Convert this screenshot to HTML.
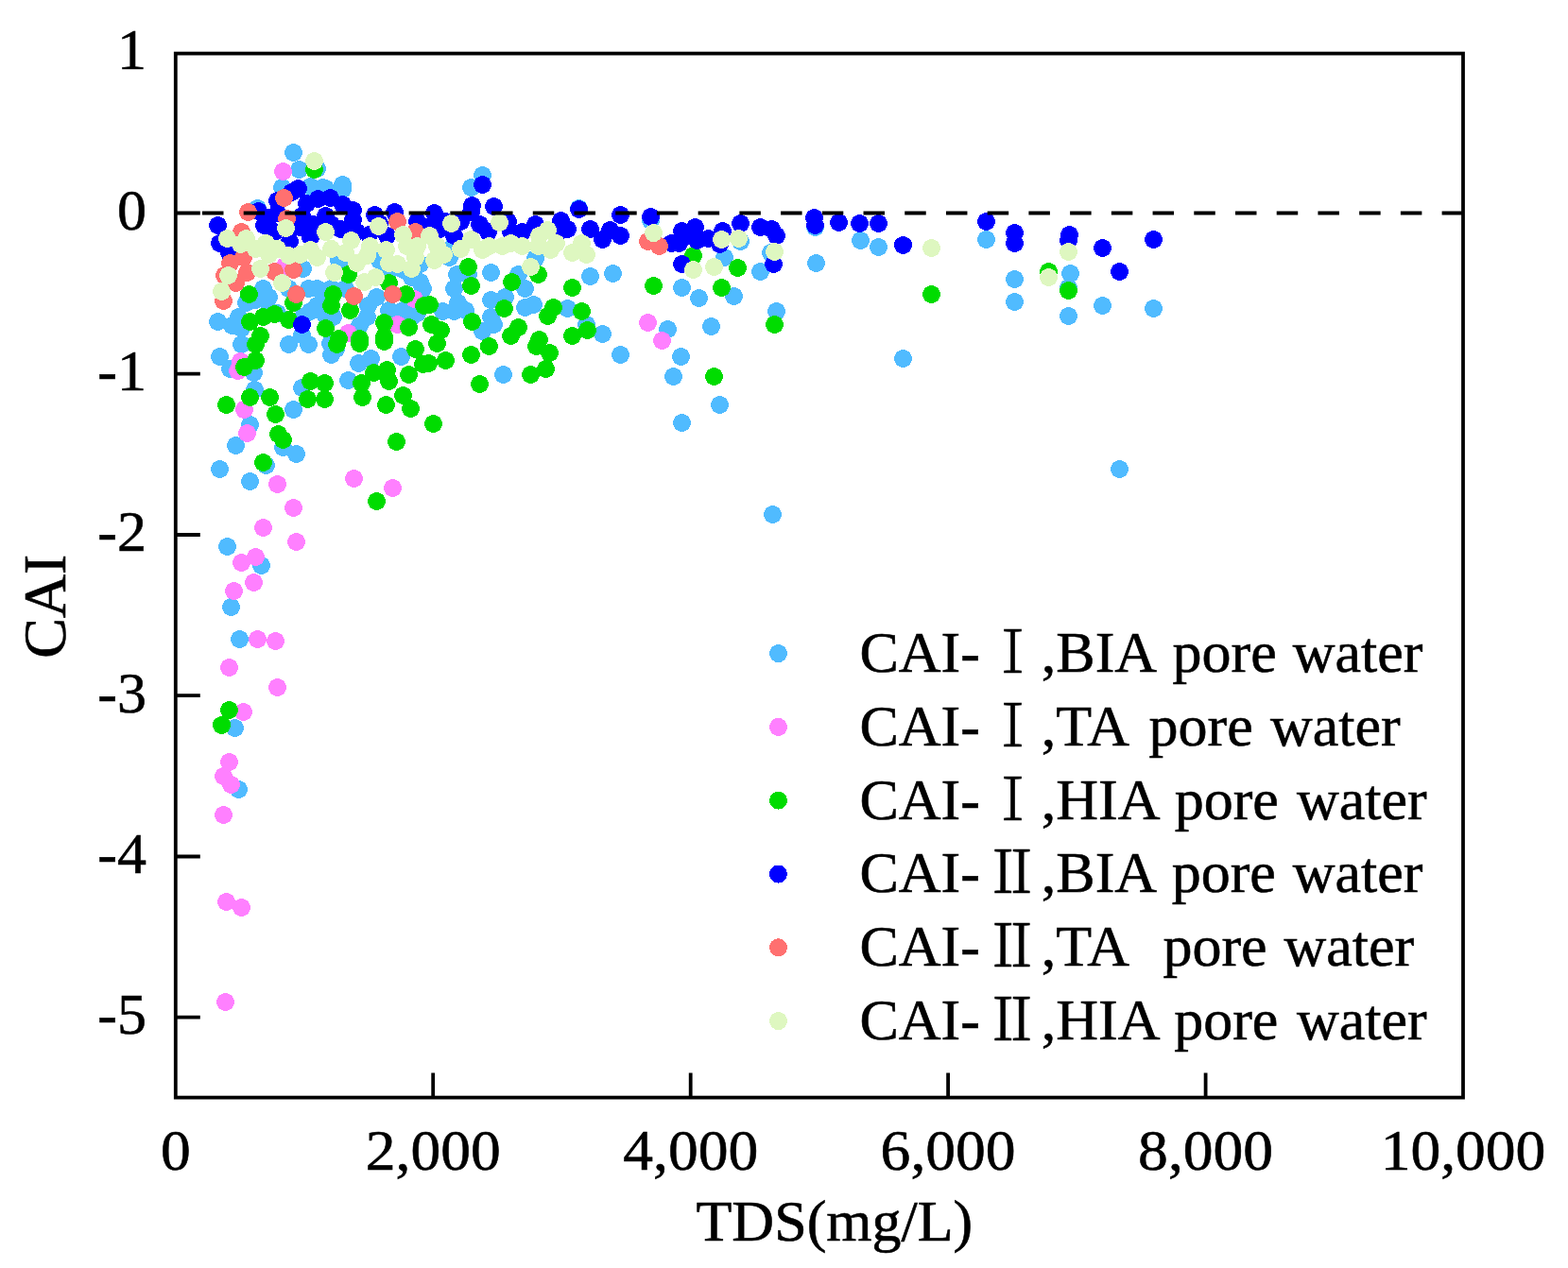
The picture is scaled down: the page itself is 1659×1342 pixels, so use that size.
<!DOCTYPE html><html><head><meta charset="utf-8"><title>CAI vs TDS</title><style>html,body{margin:0;padding:0;background:#fff;}svg{display:block;}text{font-family:"Liberation Serif","Noto Serif CJK SC",serif;fill:#000;stroke:#000;stroke-width:0.6px;}</style></head><body>
<svg width="1659" height="1342" viewBox="0 0 1659 1342">
<rect width="1659" height="1342" fill="#fff"/>
<g fill="#50BBFF" shape-rendering="crispEdges">
<circle cx="310.5" cy="161.5" r="9.5"/><circle cx="316.5" cy="179.5" r="9.5"/><circle cx="362.5" cy="195.5" r="9.5"/><circle cx="341.5" cy="198.5" r="9.5"/><circle cx="328.5" cy="197.5" r="9.5"/><circle cx="510.5" cy="185.5" r="9.5"/><circle cx="498.5" cy="198.5" r="9.5"/><circle cx="272.5" cy="220.5" r="9.5"/><circle cx="298.5" cy="198.5" r="9.5"/><circle cx="362.5" cy="200.5" r="9.5"/><circle cx="344.5" cy="199.5" r="9.5"/><circle cx="358.5" cy="275.5" r="9.5"/><circle cx="401.5" cy="275.5" r="9.5"/><circle cx="426.5" cy="285.5" r="9.5"/><circle cx="444.5" cy="279.5" r="9.5"/><circle cx="444.5" cy="298.5" r="9.5"/><circle cx="320.5" cy="284.5" r="9.5"/><circle cx="278.5" cy="305.5" r="9.5"/><circle cx="230.5" cy="340.5" r="9.5"/><circle cx="252.5" cy="335.5" r="9.5"/><circle cx="270.5" cy="317.5" r="9.5"/><circle cx="284.5" cy="314.5" r="9.5"/><circle cx="293.5" cy="331.5" r="9.5"/><circle cx="328.5" cy="329.5" r="9.5"/><circle cx="343.5" cy="311.5" r="9.5"/><circle cx="350.5" cy="305.5" r="9.5"/><circle cx="335.5" cy="323.5" r="9.5"/><circle cx="389.5" cy="323.5" r="9.5"/><circle cx="398.5" cy="314.5" r="9.5"/><circle cx="380.5" cy="344.5" r="9.5"/><circle cx="426.5" cy="328.5" r="9.5"/><circle cx="441.5" cy="331.5" r="9.5"/><circle cx="326.5" cy="305.5" r="9.5"/><circle cx="365.5" cy="278.5" r="9.5"/><circle cx="411.5" cy="287.5" r="9.5"/><circle cx="435.5" cy="293.5" r="9.5"/><circle cx="447.5" cy="305.5" r="9.5"/><circle cx="260.5" cy="320.5" r="9.5"/><circle cx="284.5" cy="328.5" r="9.5"/><circle cx="305.5" cy="305.5" r="9.5"/><circle cx="320.5" cy="335.5" r="9.5"/><circle cx="335.5" cy="305.5" r="9.5"/><circle cx="365.5" cy="305.5" r="9.5"/><circle cx="388.5" cy="335.5" r="9.5"/><circle cx="435.5" cy="335.5" r="9.5"/><circle cx="245.5" cy="344.5" r="9.5"/><circle cx="411.5" cy="328.5" r="9.5"/><circle cx="612.5" cy="220.5" r="9.5"/><circle cx="688.5" cy="233.5" r="9.5"/><circle cx="480.5" cy="258.5" r="9.5"/><circle cx="475.5" cy="272.5" r="9.5"/><circle cx="483.5" cy="290.5" r="9.5"/><circle cx="480.5" cy="305.5" r="9.5"/><circle cx="484.5" cy="320.5" r="9.5"/><circle cx="468.5" cy="329.5" r="9.5"/><circle cx="519.5" cy="288.5" r="9.5"/><circle cx="548.5" cy="290.5" r="9.5"/><circle cx="555.5" cy="305.5" r="9.5"/><circle cx="519.5" cy="317.5" r="9.5"/><circle cx="534.5" cy="314.5" r="9.5"/><circle cx="555.5" cy="325.5" r="9.5"/><circle cx="564.5" cy="322.5" r="9.5"/><circle cx="519.5" cy="335.5" r="9.5"/><circle cx="510.5" cy="350.5" r="9.5"/><circle cx="600.5" cy="326.5" r="9.5"/><circle cx="624.5" cy="292.5" r="9.5"/><circle cx="648.5" cy="289.5" r="9.5"/><circle cx="620.5" cy="343.5" r="9.5"/><circle cx="637.5" cy="353.5" r="9.5"/><circle cx="566.5" cy="273.5" r="9.5"/><circle cx="492.5" cy="328.5" r="9.5"/><circle cx="495.5" cy="290.5" r="9.5"/><circle cx="480.5" cy="329.5" r="9.5"/><circle cx="522.5" cy="343.5" r="9.5"/><circle cx="783.5" cy="255.5" r="9.5"/><circle cx="766.5" cy="272.5" r="9.5"/><circle cx="862.5" cy="240.5" r="9.5"/><circle cx="910.5" cy="254.5" r="9.5"/><circle cx="929.5" cy="261.5" r="9.5"/><circle cx="863.5" cy="278.5" r="9.5"/><circle cx="804.5" cy="287.5" r="9.5"/><circle cx="721.5" cy="304.5" r="9.5"/><circle cx="739.5" cy="315.5" r="9.5"/><circle cx="776.5" cy="313.5" r="9.5"/><circle cx="821.5" cy="329.5" r="9.5"/><circle cx="752.5" cy="345.5" r="9.5"/><circle cx="706.5" cy="348.5" r="9.5"/><circle cx="815.5" cy="267.5" r="9.5"/><circle cx="1043.5" cy="253.5" r="9.5"/><circle cx="1073.5" cy="295.5" r="9.5"/><circle cx="1073.5" cy="319.5" r="9.5"/><circle cx="1132.5" cy="289.5" r="9.5"/><circle cx="1130.5" cy="304.5" r="9.5"/><circle cx="1166.5" cy="323.5" r="9.5"/><circle cx="1220.5" cy="326.5" r="9.5"/><circle cx="1130.5" cy="334.5" r="9.5"/><circle cx="335.5" cy="178.5" r="9.5"/><circle cx="232.5" cy="377.5" r="9.5"/><circle cx="243.5" cy="390.5" r="9.5"/><circle cx="268.5" cy="394.5" r="9.5"/><circle cx="255.5" cy="364.5" r="9.5"/><circle cx="305.5" cy="364.5" r="9.5"/><circle cx="326.5" cy="364.5" r="9.5"/><circle cx="350.5" cy="375.5" r="9.5"/><circle cx="355.5" cy="369.5" r="9.5"/><circle cx="379.5" cy="384.5" r="9.5"/><circle cx="392.5" cy="379.5" r="9.5"/><circle cx="424.5" cy="377.5" r="9.5"/><circle cx="368.5" cy="402.5" r="9.5"/><circle cx="319.5" cy="410.5" r="9.5"/><circle cx="269.5" cy="412.5" r="9.5"/><circle cx="310.5" cy="433.5" r="9.5"/><circle cx="264.5" cy="449.5" r="9.5"/><circle cx="249.5" cy="471.5" r="9.5"/><circle cx="299.5" cy="473.5" r="9.5"/><circle cx="313.5" cy="480.5" r="9.5"/><circle cx="232.5" cy="496.5" r="9.5"/><circle cx="281.5" cy="492.5" r="9.5"/><circle cx="264.5" cy="509.5" r="9.5"/><circle cx="349.5" cy="363.5" r="9.5"/><circle cx="532.5" cy="396.5" r="9.5"/><circle cx="656.5" cy="375.5" r="9.5"/><circle cx="720.5" cy="377.5" r="9.5"/><circle cx="712.5" cy="398.5" r="9.5"/><circle cx="761.5" cy="428.5" r="9.5"/><circle cx="721.5" cy="447.5" r="9.5"/><circle cx="955.5" cy="379.5" r="9.5"/><circle cx="1184.5" cy="496.5" r="9.5"/><circle cx="240.5" cy="578.5" r="9.5"/><circle cx="276.5" cy="598.5" r="9.5"/><circle cx="244.5" cy="642.5" r="9.5"/><circle cx="253.5" cy="676.5" r="9.5"/><circle cx="248.5" cy="770.5" r="9.5"/><circle cx="252.5" cy="835.5" r="9.5"/><circle cx="817.5" cy="544.5" r="9.5"/><circle cx="319.5" cy="354.5" r="9.5"/><circle cx="255.5" cy="347.5" r="9.5"/><circle cx="343.5" cy="332.5" r="9.5"/><circle cx="352.5" cy="335.5" r="9.5"/>
</g>
<g fill="#FF80FF" shape-rendering="crispEdges">
<circle cx="299.5" cy="181.5" r="9.5"/><circle cx="301.5" cy="281.5" r="9.5"/><circle cx="438.5" cy="316.5" r="9.5"/><circle cx="420.5" cy="343.5" r="9.5"/><circle cx="368.5" cy="352.5" r="9.5"/><circle cx="685.5" cy="341.5" r="9.5"/><circle cx="700.5" cy="360.5" r="9.5"/><circle cx="254.5" cy="382.5" r="9.5"/><circle cx="251.5" cy="392.5" r="9.5"/><circle cx="258.5" cy="433.5" r="9.5"/><circle cx="261.5" cy="458.5" r="9.5"/><circle cx="293.5" cy="512.5" r="9.5"/><circle cx="374.5" cy="506.5" r="9.5"/><circle cx="415.5" cy="516.5" r="9.5"/><circle cx="310.5" cy="537.5" r="9.5"/><circle cx="278.5" cy="558.5" r="9.5"/><circle cx="313.5" cy="573.5" r="9.5"/><circle cx="255.5" cy="595.5" r="9.5"/><circle cx="270.5" cy="589.5" r="9.5"/><circle cx="268.5" cy="616.5" r="9.5"/><circle cx="247.5" cy="625.5" r="9.5"/><circle cx="272.5" cy="676.5" r="9.5"/><circle cx="291.5" cy="678.5" r="9.5"/><circle cx="242.5" cy="706.5" r="9.5"/><circle cx="293.5" cy="727.5" r="9.5"/><circle cx="257.5" cy="753.5" r="9.5"/><circle cx="242.5" cy="806.5" r="9.5"/><circle cx="236.5" cy="821.5" r="9.5"/><circle cx="244.5" cy="830.5" r="9.5"/><circle cx="236.5" cy="862.5" r="9.5"/><circle cx="239.5" cy="954.5" r="9.5"/><circle cx="255.5" cy="960.5" r="9.5"/><circle cx="238.5" cy="1060.5" r="9.5"/>
</g>
<g fill="#00DC00" shape-rendering="crispEdges">
<circle cx="332.5" cy="179.5" r="9.5"/><circle cx="263.5" cy="311.5" r="9.5"/><circle cx="310.5" cy="320.5" r="9.5"/><circle cx="352.5" cy="311.5" r="9.5"/><circle cx="350.5" cy="323.5" r="9.5"/><circle cx="368.5" cy="290.5" r="9.5"/><circle cx="370.5" cy="328.5" r="9.5"/><circle cx="411.5" cy="299.5" r="9.5"/><circle cx="429.5" cy="311.5" r="9.5"/><circle cx="448.5" cy="323.5" r="9.5"/><circle cx="264.5" cy="340.5" r="9.5"/><circle cx="278.5" cy="335.5" r="9.5"/><circle cx="290.5" cy="332.5" r="9.5"/><circle cx="305.5" cy="338.5" r="9.5"/><circle cx="275.5" cy="355.5" r="9.5"/><circle cx="344.5" cy="347.5" r="9.5"/><circle cx="406.5" cy="341.5" r="9.5"/><circle cx="432.5" cy="346.5" r="9.5"/><circle cx="406.5" cy="356.5" r="9.5"/><circle cx="358.5" cy="358.5" r="9.5"/><circle cx="380.5" cy="358.5" r="9.5"/><circle cx="495.5" cy="282.5" r="9.5"/><circle cx="498.5" cy="302.5" r="9.5"/><circle cx="541.5" cy="298.5" r="9.5"/><circle cx="569.5" cy="290.5" r="9.5"/><circle cx="605.5" cy="304.5" r="9.5"/><circle cx="691.5" cy="302.5" r="9.5"/><circle cx="454.5" cy="322.5" r="9.5"/><circle cx="533.5" cy="326.5" r="9.5"/><circle cx="585.5" cy="325.5" r="9.5"/><circle cx="579.5" cy="334.5" r="9.5"/><circle cx="615.5" cy="329.5" r="9.5"/><circle cx="499.5" cy="340.5" r="9.5"/><circle cx="466.5" cy="349.5" r="9.5"/><circle cx="456.5" cy="343.5" r="9.5"/><circle cx="548.5" cy="346.5" r="9.5"/><circle cx="540.5" cy="355.5" r="9.5"/><circle cx="605.5" cy="355.5" r="9.5"/><circle cx="621.5" cy="349.5" r="9.5"/><circle cx="570.5" cy="359.5" r="9.5"/><circle cx="733.5" cy="270.5" r="9.5"/><circle cx="780.5" cy="283.5" r="9.5"/><circle cx="763.5" cy="304.5" r="9.5"/><circle cx="819.5" cy="343.5" r="9.5"/><circle cx="985.5" cy="311.5" r="9.5"/><circle cx="1109.5" cy="287.5" r="9.5"/><circle cx="1130.5" cy="307.5" r="9.5"/><circle cx="270.5" cy="364.5" r="9.5"/><circle cx="270.5" cy="381.5" r="9.5"/><circle cx="258.5" cy="388.5" r="9.5"/><circle cx="356.5" cy="364.5" r="9.5"/><circle cx="380.5" cy="363.5" r="9.5"/><circle cx="406.5" cy="361.5" r="9.5"/><circle cx="439.5" cy="369.5" r="9.5"/><circle cx="447.5" cy="385.5" r="9.5"/><circle cx="328.5" cy="403.5" r="9.5"/><circle cx="343.5" cy="405.5" r="9.5"/><circle cx="325.5" cy="422.5" r="9.5"/><circle cx="343.5" cy="422.5" r="9.5"/><circle cx="382.5" cy="405.5" r="9.5"/><circle cx="395.5" cy="394.5" r="9.5"/><circle cx="409.5" cy="391.5" r="9.5"/><circle cx="411.5" cy="403.5" r="9.5"/><circle cx="432.5" cy="396.5" r="9.5"/><circle cx="383.5" cy="420.5" r="9.5"/><circle cx="408.5" cy="428.5" r="9.5"/><circle cx="426.5" cy="418.5" r="9.5"/><circle cx="434.5" cy="432.5" r="9.5"/><circle cx="239.5" cy="428.5" r="9.5"/><circle cx="264.5" cy="420.5" r="9.5"/><circle cx="285.5" cy="420.5" r="9.5"/><circle cx="291.5" cy="438.5" r="9.5"/><circle cx="294.5" cy="459.5" r="9.5"/><circle cx="299.5" cy="465.5" r="9.5"/><circle cx="419.5" cy="467.5" r="9.5"/><circle cx="278.5" cy="489.5" r="9.5"/><circle cx="462.5" cy="363.5" r="9.5"/><circle cx="453.5" cy="384.5" r="9.5"/><circle cx="471.5" cy="381.5" r="9.5"/><circle cx="498.5" cy="375.5" r="9.5"/><circle cx="517.5" cy="366.5" r="9.5"/><circle cx="567.5" cy="366.5" r="9.5"/><circle cx="581.5" cy="373.5" r="9.5"/><circle cx="577.5" cy="390.5" r="9.5"/><circle cx="561.5" cy="396.5" r="9.5"/><circle cx="507.5" cy="406.5" r="9.5"/><circle cx="458.5" cy="448.5" r="9.5"/><circle cx="755.5" cy="398.5" r="9.5"/><circle cx="398.5" cy="530.5" r="9.5"/><circle cx="242.5" cy="751.5" r="9.5"/><circle cx="234.5" cy="767.5" r="9.5"/>
</g>
<g fill="#0000FF" shape-rendering="crispEdges">
<circle cx="510.5" cy="195.5" r="9.5"/><circle cx="230.5" cy="238.5" r="9.5"/><circle cx="232.5" cy="257.5" r="9.5"/><circle cx="315.5" cy="199.5" r="9.5"/><circle cx="273.5" cy="223.5" r="9.5"/><circle cx="336.5" cy="210.5" r="9.5"/><circle cx="362.5" cy="216.5" r="9.5"/><circle cx="396.5" cy="227.5" r="9.5"/><circle cx="279.5" cy="238.5" r="9.5"/><circle cx="306.5" cy="255.5" r="9.5"/><circle cx="328.5" cy="250.5" r="9.5"/><circle cx="360.5" cy="242.5" r="9.5"/><circle cx="390.5" cy="248.5" r="9.5"/><circle cx="373.5" cy="232.5" r="9.5"/><circle cx="319.5" cy="228.5" r="9.5"/><circle cx="293.5" cy="225.5" r="9.5"/><circle cx="344.5" cy="228.5" r="9.5"/><circle cx="417.5" cy="224.5" r="9.5"/><circle cx="441.5" cy="234.5" r="9.5"/><circle cx="409.5" cy="249.5" r="9.5"/><circle cx="319.5" cy="343.5" r="9.5"/><circle cx="242.5" cy="267.5" r="9.5"/><circle cx="317.5" cy="240.5" r="9.5"/><circle cx="293.5" cy="212.5" r="9.5"/><circle cx="308.5" cy="203.5" r="9.5"/><circle cx="350.5" cy="237.5" r="9.5"/><circle cx="373.5" cy="222.5" r="9.5"/><circle cx="377.5" cy="245.5" r="9.5"/><circle cx="290.5" cy="245.5" r="9.5"/><circle cx="284.5" cy="230.5" r="9.5"/><circle cx="401.5" cy="236.5" r="9.5"/><circle cx="459.5" cy="225.5" r="9.5"/><circle cx="499.5" cy="217.5" r="9.5"/><circle cx="498.5" cy="224.5" r="9.5"/><circle cx="522.5" cy="218.5" r="9.5"/><circle cx="465.5" cy="242.5" r="9.5"/><circle cx="480.5" cy="249.5" r="9.5"/><circle cx="487.5" cy="234.5" r="9.5"/><circle cx="507.5" cy="237.5" r="9.5"/><circle cx="516.5" cy="245.5" r="9.5"/><circle cx="537.5" cy="234.5" r="9.5"/><circle cx="540.5" cy="245.5" r="9.5"/><circle cx="566.5" cy="237.5" r="9.5"/><circle cx="552.5" cy="245.5" r="9.5"/><circle cx="593.5" cy="233.5" r="9.5"/><circle cx="600.5" cy="242.5" r="9.5"/><circle cx="612.5" cy="221.5" r="9.5"/><circle cx="624.5" cy="242.5" r="9.5"/><circle cx="637.5" cy="253.5" r="9.5"/><circle cx="656.5" cy="227.5" r="9.5"/><circle cx="656.5" cy="249.5" r="9.5"/><circle cx="688.5" cy="229.5" r="9.5"/><circle cx="590.5" cy="245.5" r="9.5"/><circle cx="645.5" cy="243.5" r="9.5"/><circle cx="471.5" cy="234.5" r="9.5"/><circle cx="454.5" cy="239.5" r="9.5"/><circle cx="721.5" cy="244.5" r="9.5"/><circle cx="735.5" cy="240.5" r="9.5"/><circle cx="718.5" cy="257.5" r="9.5"/><circle cx="737.5" cy="254.5" r="9.5"/><circle cx="749.5" cy="252.5" r="9.5"/><circle cx="764.5" cy="244.5" r="9.5"/><circle cx="761.5" cy="258.5" r="9.5"/><circle cx="783.5" cy="236.5" r="9.5"/><circle cx="804.5" cy="240.5" r="9.5"/><circle cx="816.5" cy="242.5" r="9.5"/><circle cx="821.5" cy="249.5" r="9.5"/><circle cx="710.5" cy="257.5" r="9.5"/><circle cx="721.5" cy="279.5" r="9.5"/><circle cx="818.5" cy="279.5" r="9.5"/><circle cx="861.5" cy="230.5" r="9.5"/><circle cx="862.5" cy="238.5" r="9.5"/><circle cx="887.5" cy="235.5" r="9.5"/><circle cx="909.5" cy="236.5" r="9.5"/><circle cx="929.5" cy="236.5" r="9.5"/><circle cx="728.5" cy="249.5" r="9.5"/><circle cx="955.5" cy="259.5" r="9.5"/><circle cx="1043.5" cy="234.5" r="9.5"/><circle cx="1073.5" cy="246.5" r="9.5"/><circle cx="1073.5" cy="257.5" r="9.5"/><circle cx="1131.5" cy="248.5" r="9.5"/><circle cx="1130.5" cy="254.5" r="9.5"/><circle cx="1166.5" cy="262.5" r="9.5"/><circle cx="1220.5" cy="253.5" r="9.5"/><circle cx="1184.5" cy="287.5" r="9.5"/><circle cx="324.5" cy="215.5" r="9.5"/><circle cx="331.5" cy="237.5" r="9.5"/><circle cx="349.5" cy="209.5" r="9.5"/>
</g>
<g fill="#FF7070" shape-rendering="crispEdges">
<circle cx="300.5" cy="209.5" r="9.5"/><circle cx="262.5" cy="224.5" r="9.5"/><circle cx="303.5" cy="231.5" r="9.5"/><circle cx="420.5" cy="234.5" r="9.5"/><circle cx="439.5" cy="245.5" r="9.5"/><circle cx="243.5" cy="278.5" r="9.5"/><circle cx="257.5" cy="272.5" r="9.5"/><circle cx="261.5" cy="288.5" r="9.5"/><circle cx="249.5" cy="299.5" r="9.5"/><circle cx="236.5" cy="318.5" r="9.5"/><circle cx="237.5" cy="291.5" r="9.5"/><circle cx="290.5" cy="287.5" r="9.5"/><circle cx="310.5" cy="285.5" r="9.5"/><circle cx="313.5" cy="311.5" r="9.5"/><circle cx="374.5" cy="313.5" r="9.5"/><circle cx="415.5" cy="311.5" r="9.5"/><circle cx="255.5" cy="245.5" r="9.5"/><circle cx="685.5" cy="255.5" r="9.5"/><circle cx="697.5" cy="260.5" r="9.5"/>
</g>
<g fill="#DEF7C0" shape-rendering="crispEdges">
<circle cx="332.5" cy="170.5" r="9.5"/><circle cx="240.5" cy="252.5" r="9.5"/><circle cx="260.5" cy="252.5" r="9.5"/><circle cx="270.5" cy="263.5" r="9.5"/><circle cx="281.5" cy="257.5" r="9.5"/><circle cx="302.5" cy="241.5" r="9.5"/><circle cx="284.5" cy="269.5" r="9.5"/><circle cx="305.5" cy="270.5" r="9.5"/><circle cx="328.5" cy="264.5" r="9.5"/><circle cx="344.5" cy="245.5" r="9.5"/><circle cx="350.5" cy="263.5" r="9.5"/><circle cx="371.5" cy="254.5" r="9.5"/><circle cx="365.5" cy="267.5" r="9.5"/><circle cx="400.5" cy="239.5" r="9.5"/><circle cx="391.5" cy="260.5" r="9.5"/><circle cx="408.5" cy="264.5" r="9.5"/><circle cx="426.5" cy="248.5" r="9.5"/><circle cx="441.5" cy="260.5" r="9.5"/><circle cx="420.5" cy="279.5" r="9.5"/><circle cx="439.5" cy="272.5" r="9.5"/><circle cx="241.5" cy="291.5" r="9.5"/><circle cx="234.5" cy="308.5" r="9.5"/><circle cx="275.5" cy="284.5" r="9.5"/><circle cx="298.5" cy="299.5" r="9.5"/><circle cx="353.5" cy="288.5" r="9.5"/><circle cx="385.5" cy="298.5" r="9.5"/><circle cx="397.5" cy="293.5" r="9.5"/><circle cx="293.5" cy="263.5" r="9.5"/><circle cx="317.5" cy="269.5" r="9.5"/><circle cx="335.5" cy="272.5" r="9.5"/><circle cx="388.5" cy="270.5" r="9.5"/><circle cx="411.5" cy="278.5" r="9.5"/><circle cx="430.5" cy="260.5" r="9.5"/><circle cx="254.5" cy="258.5" r="9.5"/><circle cx="377.5" cy="278.5" r="9.5"/><circle cx="435.5" cy="284.5" r="9.5"/><circle cx="477.5" cy="236.5" r="9.5"/><circle cx="528.5" cy="235.5" r="9.5"/><circle cx="498.5" cy="253.5" r="9.5"/><circle cx="462.5" cy="260.5" r="9.5"/><circle cx="469.5" cy="269.5" r="9.5"/><circle cx="459.5" cy="275.5" r="9.5"/><circle cx="510.5" cy="264.5" r="9.5"/><circle cx="517.5" cy="260.5" r="9.5"/><circle cx="540.5" cy="257.5" r="9.5"/><circle cx="552.5" cy="260.5" r="9.5"/><circle cx="531.5" cy="260.5" r="9.5"/><circle cx="570.5" cy="249.5" r="9.5"/><circle cx="579.5" cy="243.5" r="9.5"/><circle cx="582.5" cy="264.5" r="9.5"/><circle cx="588.5" cy="257.5" r="9.5"/><circle cx="605.5" cy="267.5" r="9.5"/><circle cx="620.5" cy="269.5" r="9.5"/><circle cx="615.5" cy="257.5" r="9.5"/><circle cx="561.5" cy="282.5" r="9.5"/><circle cx="691.5" cy="246.5" r="9.5"/><circle cx="454.5" cy="249.5" r="9.5"/><circle cx="487.5" cy="263.5" r="9.5"/><circle cx="569.5" cy="260.5" r="9.5"/><circle cx="763.5" cy="253.5" r="9.5"/><circle cx="781.5" cy="252.5" r="9.5"/><circle cx="819.5" cy="266.5" r="9.5"/><circle cx="733.5" cy="285.5" r="9.5"/><circle cx="755.5" cy="282.5" r="9.5"/><circle cx="985.5" cy="262.5" r="9.5"/><circle cx="1130.5" cy="266.5" r="9.5"/><circle cx="1109.5" cy="293.5" r="9.5"/>
</g>
<line x1="214" y1="225.5" x2="1548" y2="225.5" stroke="#000" stroke-width="3.8" stroke-dasharray="22.5 21.22"/>
<rect x="185.8" y="56.6" width="1362.2" height="1105.0" fill="none" stroke="#000" stroke-width="3.8"/>
<path d="M458.2 1161.6V1135.6 M730.7 1161.6V1135.6 M1003.1 1161.6V1135.6 M1275.6 1161.6V1135.6 M185.8 1076.7H211.8 M185.8 906.5H211.8 M185.8 736.2H211.8 M185.8 566.0H211.8 M185.8 395.7H211.8 M185.8 225.5H211.8" stroke="#000" stroke-width="3.8" fill="none"/>
<text transform="translate(185.8,1238) scale(1.025,1)" font-size="62" text-anchor="middle">0</text>
<text transform="translate(458.2,1238) scale(1.025,1)" font-size="62" text-anchor="middle">2,000</text>
<text transform="translate(730.7,1238) scale(1.025,1)" font-size="62" text-anchor="middle">4,000</text>
<text transform="translate(1003.1,1238) scale(1.025,1)" font-size="62" text-anchor="middle">6,000</text>
<text transform="translate(1275.6,1238) scale(1.025,1)" font-size="62" text-anchor="middle">8,000</text>
<text transform="translate(1548.0,1238) scale(1.025,1)" font-size="62" text-anchor="middle">10,000</text>
<text x="155" y="1094.0" font-size="62" text-anchor="end">-5</text>
<text x="155" y="923.8" font-size="62" text-anchor="end">-4</text>
<text x="155" y="753.5" font-size="62" text-anchor="end">-3</text>
<text x="155" y="583.3" font-size="62" text-anchor="end">-2</text>
<text x="155" y="413.0" font-size="62" text-anchor="end">-1</text>
<text x="155" y="242.8" font-size="62" text-anchor="end">0</text>
<text x="155" y="72.6" font-size="62" text-anchor="end">1</text>
<text x="736.5" y="1312.8" font-size="62">TDS(mg/L)</text>
<text transform="translate(69.2,641.7) rotate(-90)" font-size="64" text-anchor="middle">CAI</text>
<circle cx="823.5" cy="691.6" r="9.5" fill="#50BBFF" shape-rendering="crispEdges"/>
<text y="711.0" font-size="62"><tspan x="909.4">CAI-</tspan><tspan x="1045.6" dy="1" textLength="52.1" lengthAdjust="spacingAndGlyphs">Ⅰ</tspan><tspan x="1101.8" dy="-1">,BIA</tspan> <tspan x="1240.5">pore</tspan> <tspan x="1367.8">water</tspan></text>
<circle cx="823.5" cy="769.4" r="9.5" fill="#FF80FF" shape-rendering="crispEdges"/>
<text y="788.8" font-size="62"><tspan x="909.4">CAI-</tspan><tspan x="1045.6" dy="1" textLength="52.1" lengthAdjust="spacingAndGlyphs">Ⅰ</tspan><tspan x="1101.8" dy="-1">,TA</tspan> <tspan x="1215.5">pore</tspan> <tspan x="1344.0">water</tspan></text>
<circle cx="823.5" cy="847.2" r="9.5" fill="#00DC00" shape-rendering="crispEdges"/>
<text y="866.6" font-size="62"><tspan x="909.4">CAI-</tspan><tspan x="1045.6" dy="1" textLength="52.1" lengthAdjust="spacingAndGlyphs">Ⅰ</tspan><tspan x="1101.8" dy="-1">,HIA</tspan> <tspan x="1242.7">pore</tspan> <tspan x="1371.9">water</tspan></text>
<circle cx="823.5" cy="925.0" r="9.5" fill="#0000FF" shape-rendering="crispEdges"/>
<text y="944.4" font-size="62"><tspan x="909.4">CAI-</tspan><tspan x="1041.6" dy="1" textLength="58.9" lengthAdjust="spacingAndGlyphs">Ⅱ</tspan><tspan x="1101.8" dy="-1">,BIA</tspan> <tspan x="1239.7">pore</tspan> <tspan x="1367.8">water</tspan></text>
<circle cx="823.5" cy="1002.8" r="9.5" fill="#FF7070" shape-rendering="crispEdges"/>
<text y="1022.2" font-size="62"><tspan x="909.4">CAI-</tspan><tspan x="1041.6" dy="1" textLength="58.9" lengthAdjust="spacingAndGlyphs">Ⅱ</tspan><tspan x="1101.8" dy="-1">,TA</tspan>  <tspan x="1230.4">pore</tspan> <tspan x="1358.5">water</tspan></text>
<circle cx="823.5" cy="1080.6" r="9.5" fill="#DEF7C0" shape-rendering="crispEdges"/>
<text y="1100.0" font-size="62"><tspan x="909.4">CAI-</tspan><tspan x="1041.6" dy="1" textLength="58.9" lengthAdjust="spacingAndGlyphs">Ⅱ</tspan><tspan x="1101.8" dy="-1">,HIA</tspan> <tspan x="1242.2">pore</tspan> <tspan x="1371.9">water</tspan></text>
</svg></body></html>
